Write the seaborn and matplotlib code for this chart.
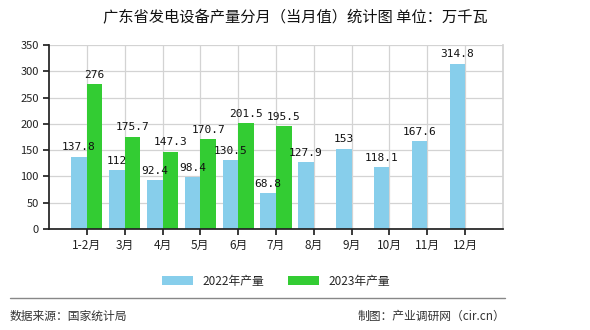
import numpy as np
import pandas as pd
import matplotlib
matplotlib.use("Agg")
import matplotlib.pyplot as plt
import seaborn as sns

months = ["1-2月", "3月", "4月", "5月", "6月", "7月", "8月", "9月", "10月", "11月", "12月"]
values_2022 = [137.8, 112, 92.4, 98.4, 130.5, 68.8, 127.9, 153, 118.1, 167.6, 314.8]
values_2023 = [276, 175.7, 147.3, 170.7, 201.5, 195.5, None, None, None, None, None]
series_names = ["2022年产量", "2023年产量"]
colors = ["#87CEEB", "#33CC33"]

sns.set_theme(style="white")
plt.rcParams['font.family'] = ['Noto Sans CJK SC', 'DejaVu Sans']
plt.rcParams['axes.unicode_minus'] = False

df = pd.DataFrame({
    "月份": months * 2,
    "产量": [np.nan if v is None else v for v in values_2022 + values_2023],
    "系列": [series_names[0]] * len(months) + [series_names[1]] * len(months),
})

fig = plt.figure(figsize=(5.9, 3.3), dpi=100)
ax = fig.add_axes([49 / 590, 1 - 229 / 330, (503 - 49) / 590, (229 - 45) / 330])

sns.barplot(data=df, x="月份", y="产量", hue="系列", order=months,
            hue_order=series_names, palette=colors, width=0.82, gap=0,
            saturation=1, linewidth=0, edgecolor="none", ax=ax, legend=True)

for cont in ax.containers:
    labels = []
    for bar in cont:
        h = bar.get_height()
        if np.isnan(h) or h == 0:
            labels.append("")
        else:
            labels.append(f"{h:g}")
    ax.bar_label(cont, labels=labels, padding=3, fontsize=8,
                 family=['DejaVu Sans Mono'], color="#111111")

ax.set_xlim(-1, len(months))
ax.set_ylim(0, 350)
ax.set_yticks(np.arange(0, 351, 50))
ax.set_xticks(range(len(months)))
ax.set_xticklabels(months, fontsize=8.5)
ax.tick_params(axis='y', labelsize=8, length=4, direction='out', left=True, colors="#222222")
ax.tick_params(axis='x', length=4, direction='out', bottom=True, colors="#222222")
ax.set_xlabel("")
ax.set_ylabel("")
ax.grid(True, axis='both', color="#d3d3d3", linewidth=0.9)
ax.set_axisbelow(True)
ax.spines["top"].set_visible(False)
ax.spines["right"].set_color("#d3d3d3")
ax.spines["left"].set_color("#222222")
ax.spines["bottom"].set_color("#222222")

leg = ax.legend(loc="upper center", bbox_to_anchor=(0.5, -0.19), ncol=2,
                frameon=False, fontsize=8.5, handlelength=2.6, handleheight=0.9,
                columnspacing=2.0)

fig.text(0.5, 1 - 18 / 330, "广东省发电设备产量分月（当月值）统计图 单位：万千瓦",
         ha="center", va="center", fontsize=11, color="#111111")
fig.add_artist(plt.Line2D([10 / 590, 505 / 590], [1 - 298 / 330, 1 - 298 / 330],
                          color="#888888", linewidth=1))
fig.text(10 / 590, 1 - 316 / 330, "数据来源：国家统计局", ha="left", va="center",
         fontsize=8.5, color="#333333")
fig.text(505 / 590, 1 - 316 / 330, "制图：产业调研网（cir.cn）", ha="right", va="center",
         fontsize=8.5, color="#333333")

fig.savefig("out.png", dpi=100)
